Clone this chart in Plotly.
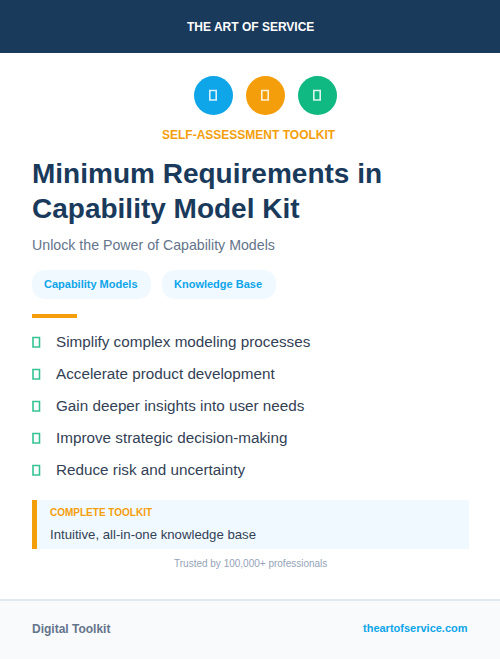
import plotly.graph_objects as go

WIDTH = 500
HEIGHT = 659

# --- Theme ---
NAVY = "#1a3a5c"
BLUE = "#0ea5e9"
ORANGE = "#f59e0b"
GREEN = "#10b981"
PALE = "#f0f9ff"
SLATE = "#334155"
FONT = "Liberation Sans, sans-serif"

# --- Content ---
brand = "THE ART OF SERVICE"
eyebrow = "SELF-ASSESSMENT TOOLKIT"
title_lines = ["Minimum Requirements in", "Capability Model Kit"]
subtitle = "Unlock the Power of Capability Models"
tags = ["Capability Models", "Knowledge Base"]
benefits = [
    "Simplify complex modeling processes",
    "Accelerate product development",
    "Gain deeper insights into user needs",
    "Improve strategic decision-making",
    "Reduce risk and uncertainty",
]
callout_label = "COMPLETE TOOLKIT"
callout_text = "Intuitive, all-in-one knowledge base"
trust_line = "Trusted by 100,000+ professionals"
footer_left = "Digital Toolkit"
footer_right = "theartofservice.com"
icon_colors = [BLUE, ORANGE, GREEN]


def rect(x0, y0, x1, y1, fill, line=None, line_width=0):
    return dict(type="rect", x0=x0, y0=y0, x1=x1, y1=y1, fillcolor=fill,
                line=dict(color=line, width=line_width), layer="below")


def pill(x0, y0, x1, y1, fill):
    r = (y1 - y0) / 2
    path = (f"M {x0 + r} {y0} L {x1 - r} {y0} Q {x1} {y0} {x1} {y0 + r} "
            f"Q {x1} {y1} {x1 - r} {y1} L {x0 + r} {y1} "
            f"Q {x0} {y1} {x0} {y0 + r} Q {x0} {y0} {x0 + r} {y0} Z")
    return dict(type="path", path=path, fillcolor=fill, line=dict(width=0), layer="below")


def label(x, y, text, size, color, bold=False, anchor="left"):
    # annotations carry 2px of padding, take it back off
    shift = {"left": -2, "right": 2, "center": 0}[anchor]
    return dict(x=x, y=y, text=f"<b>{text}</b>" if bold else text, showarrow=False,
                xanchor=anchor, yanchor="middle", align=anchor, xshift=shift,
                font=dict(family=FONT, size=size, color=color))


shapes = [
    rect(0, 0, WIDTH, 53, NAVY),
    rect(0, 601, WIDTH, HEIGHT, "#f8fafc"),
    rect(0, 599, WIDTH, 601, "#e2e8f0"),
    rect(32, 314, 77, 318, ORANGE),
    rect(32, 500, 469, 549, PALE),
    rect(32, 500, 37, 549, ORANGE),
]
annotations = [
    label(250, 26.5, brand, 12, "#ffffff", bold=True, anchor="center"),
    label(249, 135, eyebrow, 12, ORANGE, bold=True, anchor="center"),
    label(32, 173.5, title_lines[0], 28, NAVY, bold=True),
    label(32, 208.5, title_lines[1], 28, NAVY, bold=True),
    label(32, 245, subtitle, 14.2, "#64748b"),
    label(50, 512, callout_label, 10, ORANGE, bold=True),
    label(50, 534.5, callout_text, 13.2, SLATE),
    label(250, 563, trust_line, 10, "#94a3b8", anchor="center"),
    label(32, 629, footer_left, 12, "#64748b", bold=True),
    label(468, 628, footer_right, 11, BLUE, bold=True, anchor="right"),
]

# header icons
for i, color in enumerate(icon_colors):
    cx = 213.5 + 52 * i
    shapes.append(dict(type="circle", x0=cx - 19.5, y0=76, x1=cx + 19.5, y1=115,
                       fillcolor=color, line=dict(width=0), layer="below"))
    shapes.append(dict(type="rect", x0=cx - 3.7, y0=90.5, x1=cx + 2.7, y1=100,
                       fillcolor="rgba(0,0,0,0)", line=dict(color="rgba(255,255,255,0.85)", width=1.6)))

# tag pills
pill_spans = [(32, 151), (162, 276)]
for tag, (x0, x1) in zip(tags, pill_spans):
    shapes.append(pill(x0, 270, x1, 299, PALE))
    annotations.append(label((x0 + x1) / 2 - 0.8, 283.5, tag, 11, BLUE, bold=True, anchor="center"))

# benefit list
for i, benefit in enumerate(benefits):
    y = 342 + 32 * i
    shapes.append(dict(type="rect", x0=33, y0=y - 4.5, x1=39.5, y1=y + 5,
                       fillcolor="rgba(0,0,0,0)", line=dict(color="rgba(16,185,129,0.85)", width=1.6)))
    annotations.append(label(56, y - 0.5, benefit, 15.25, SLATE))

fig = go.Figure()
fig.update_layout(
    width=WIDTH, height=HEIGHT,
    margin=dict(l=0, r=0, t=0, b=0),
    paper_bgcolor="#ffffff", plot_bgcolor="#ffffff",
    showlegend=False,
    shapes=shapes, annotations=annotations,
    xaxis=dict(range=[0, WIDTH], visible=False, fixedrange=True),
    yaxis=dict(range=[HEIGHT, 0], visible=False, fixedrange=True),
)

fig.write_html("out.html", post_script="document.body.style.margin='0';", config={"displayModeBar": False})
